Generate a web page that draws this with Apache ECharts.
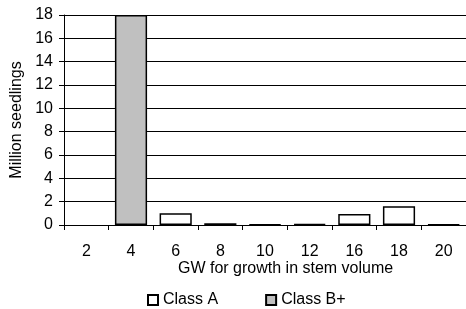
<!DOCTYPE html>
<html>
<head>
<meta charset="utf-8">
<script src="https://cdn.jsdelivr.net/npm/echarts@6/dist/echarts.min.js"></script>
<style>
  html, body { margin: 0; padding: 0; background: #fff; }
  #main { width: 466px; height: 309px; }
</style>
</head>
<body>
<div id="main"></div>
<script>
var categories = ['2', '4', '6', '8', '10', '12', '16', '18', '20'];
// null = no bar drawn for that class
var classA = [null, null, 1.0, 0.15, 0.06, 0.08, 0.95, 1.6, 0.06];
var classB = [null, 18, null, null, null, null, null, null, null];
var yTicks = [0, 2, 4, 6, 8, 10, 12, 14, 16, 18];

var myChart = echarts.init(document.getElementById('main'));

var font = 'Liberation Sans, Arial, sans-serif';

var option = {
    animation: false,
    backgroundColor: '#fff',
    textStyle: { fontFamily: font },
    grid: { left: 64, right: -6, top: 15, bottom: 84 },
    legend: {
        left: 147,
        top: 292,
        padding: 0,
        itemWidth: 10,
        itemHeight: 10,
        itemGap: 47,
        icon: 'rect',
        textStyle: { fontFamily: font, fontSize: 16, color: '#000' },
        data: ['Class A', 'Class B+']
    },
    xAxis: {
        type: 'category',
        data: categories,
        axisLine: { lineStyle: { color: '#000', width: 1 } },
        axisTick: { show: true, interval: 0, length: 5, lineStyle: { color: '#000' } },
        axisLabel: { color: '#000', fontSize: 16, fontFamily: font, margin: 19 }
    },
    yAxis: {
        type: 'value',
        min: yTicks[0],
        max: yTicks[yTicks.length - 1],
        interval: 2,
        name: 'Million seedlings',
        nameLocation: 'middle',
        nameGap: 35,
        nameTextStyle: { color: '#000', fontSize: 16, fontFamily: font },
        axisLine: { show: true, lineStyle: { color: '#000', width: 1 } },
        axisTick: { show: true, length: 5, lineStyle: { color: '#000' } },
        axisLabel: { color: '#000', fontSize: 16, fontFamily: font, margin: 11 },
        splitLine: { show: true, lineStyle: { color: '#000', width: 1 } }
    },
    graphic: [{
        type: 'text',
        left: 178,
        top: 261,
        style: { text: 'GW for growth in stem volume', fontSize: 16, fontFamily: font, fill: '#000' }
    }],
    series: [
        {
            name: 'Class A',
            type: 'bar',
            stack: 'all',
            barWidth: '72%',
            data: classA,
            itemStyle: { color: '#fff', borderColor: '#000', borderWidth: 1.5 }
        },
        {
            name: 'Class B+',
            type: 'bar',
            stack: 'all',
            barWidth: '72%',
            data: classB,
            itemStyle: { color: '#c0c0c0', borderColor: '#000', borderWidth: 1.5 }
        }
    ]
};

myChart.setOption(option);
</script>
</body>
</html>
